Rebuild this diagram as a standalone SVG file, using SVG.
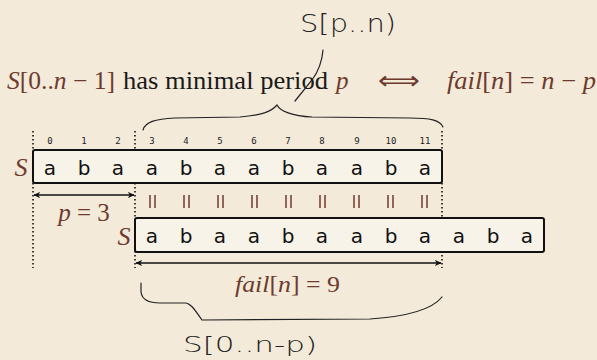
<svg xmlns="http://www.w3.org/2000/svg" width="597" height="360" viewBox="0 0 597 360">
<style>
.math{font-family:"Liberation Serif",serif;fill:#6e3a2e}
.tt{font-family:"Liberation Serif",serif;fill:#1a1a1a}
.it{font-style:italic}
.idx{font-family:"DejaVu Sans Mono",monospace;font-size:9px;fill:#222;text-anchor:middle}
.ch{font-family:"DejaVu Sans",sans-serif;font-size:20px;fill:#111;text-anchor:middle}
.box{fill:#f8f3e9;stroke:#111;stroke-width:2}
.dot{stroke:#111;stroke-width:1.6;stroke-dasharray:1.6,2.4;fill:none}
.arr{stroke:#111;stroke-width:1.6;fill:none;marker-start:url(#ah);marker-end:url(#ah)}
.eq{stroke:#6e3a2e;stroke-width:1.5}
.hand{fill:none;stroke:#222;stroke-width:1.2;stroke-linecap:round}
.htxt{font-family:"DejaVu Sans",sans-serif;font-weight:200;fill:#222}
</style>
<defs>
<marker id="ah" viewBox="0 0 10 10" refX="9" refY="5" markerWidth="7" markerHeight="7" orient="auto-start-reverse" markerUnits="userSpaceOnUse">
<path d="M0,0.5 L10,5 L0,9.5 L3,5 Z" fill="#111"/>
</marker>
</defs>
<rect width="597" height="360" fill="#f3ead9"/>

<g id="title">
<text x="7" y="89" font-size="25" class="math" textLength="108" lengthAdjust="spacingAndGlyphs"><tspan class="it">S</tspan>[0..<tspan class="it">n</tspan> − 1]</text>
<text x="123" y="89" font-size="25" class="tt" textLength="205" lengthAdjust="spacingAndGlyphs">has minimal period</text>
<text x="336" y="89" font-size="25" class="math it">p</text>
<text x="378" y="89" font-size="25" class="math" textLength="42" lengthAdjust="spacingAndGlyphs">⟺</text>
<text x="447" y="89" font-size="25" class="math" textLength="149" lengthAdjust="spacingAndGlyphs"><tspan class="it">fail</tspan>[<tspan class="it">n</tspan>] = <tspan class="it">n</tspan> − <tspan class="it">p</tspan></text>
</g>

<g id="indices">
<text class="idx" x="50" y="144">0</text>
<text class="idx" x="84" y="144">1</text>
<text class="idx" x="118" y="144">2</text>
<text class="idx" x="152" y="144">3</text>
<text class="idx" x="186" y="144">4</text>
<text class="idx" x="220" y="144">5</text>
<text class="idx" x="254" y="144">6</text>
<text class="idx" x="288" y="144">7</text>
<text class="idx" x="322" y="144">8</text>
<text class="idx" x="357" y="144">9</text>
<text class="idx" x="391" y="144">10</text>
<text class="idx" x="425" y="144">11</text>
</g>

<g id="dotted">
<line class="dot" x1="33" y1="131" x2="33" y2="268"/>
<line class="dot" x1="135" y1="131" x2="135" y2="268"/>
<line class="dot" x1="442" y1="131" x2="442" y2="268"/>
</g>

<g id="top-string">
<text x="21" y="176" font-size="26" class="math it" text-anchor="middle">S</text>
<rect class="box" x="33" y="150" width="409" height="33" rx="2"/>
<text class="ch" y="175"><tspan x="50">a</tspan><tspan x="84">b</tspan><tspan x="118">a</tspan><tspan x="152">a</tspan><tspan x="186">b</tspan><tspan x="220">a</tspan><tspan x="254">a</tspan><tspan x="288">b</tspan><tspan x="322">a</tspan><tspan x="357">a</tspan><tspan x="391">b</tspan><tspan x="425">a</tspan></text>
</g>

<g id="equals">
<g class="eq">
<line x1="150" y1="195" x2="150" y2="208"/><line x1="155" y1="195" x2="155" y2="208"/>
<line x1="184" y1="195" x2="184" y2="208"/><line x1="189" y1="195" x2="189" y2="208"/>
<line x1="218" y1="195" x2="218" y2="208"/><line x1="223" y1="195" x2="223" y2="208"/>
<line x1="252" y1="195" x2="252" y2="208"/><line x1="257" y1="195" x2="257" y2="208"/>
<line x1="286" y1="195" x2="286" y2="208"/><line x1="291" y1="195" x2="291" y2="208"/>
<line x1="320" y1="195" x2="320" y2="208"/><line x1="325" y1="195" x2="325" y2="208"/>
<line x1="354" y1="195" x2="354" y2="208"/><line x1="359" y1="195" x2="359" y2="208"/>
<line x1="388" y1="195" x2="388" y2="208"/><line x1="393" y1="195" x2="393" y2="208"/>
<line x1="422" y1="195" x2="422" y2="208"/><line x1="427" y1="195" x2="427" y2="208"/>
</g>
</g>

<g id="bottom-string">
<text x="124" y="245" font-size="26" class="math it" text-anchor="middle">S</text>
<rect class="box" x="135" y="218" width="409" height="34" rx="2"/>
<text class="ch" y="243"><tspan x="152">a</tspan><tspan x="186">b</tspan><tspan x="220">a</tspan><tspan x="254">a</tspan><tspan x="288">b</tspan><tspan x="322">a</tspan><tspan x="357">a</tspan><tspan x="391">b</tspan><tspan x="425">a</tspan><tspan x="459">a</tspan><tspan x="493">b</tspan><tspan x="527">a</tspan></text>
</g>

<g id="connectors">
<line class="arr" x1="34" y1="195" x2="134" y2="195"/>
<line class="arr" x1="136" y1="263" x2="441" y2="263"/>
</g>

<g id="labels">
<text x="84" y="221" font-size="25" class="math" text-anchor="middle"><tspan class="it">p</tspan> = 3</text>
<text x="235" y="292" font-size="24" class="math" textLength="105" lengthAdjust="spacingAndGlyphs"><tspan class="it">fail</tspan>[<tspan class="it">n</tspan>] = 9</text>
</g>

<g id="annotations">
<path class="hand" d="M143,130 C145,122 155,119 175,118 L240,117 C262,115 271,112 277,105 C280,111 292,116 312,117 L410,118 C430,118 440,120 443,127"/>
<path class="hand" d="M323,50 C322,62 318,72 312,80 L295,101"/>
<text class="htxt" x="300" y="32" font-size="24" textLength="96" lengthAdjust="spacingAndGlyphs">S[p..n)</text>
<path class="hand" d="M141,283 L141,292 C142,300 150,303 160,303 L186,303 C192,304 196,312 202,320 L370,319 C400,317 430,312 442,297"/>
<text class="htxt" x="183" y="352" font-size="22" textLength="134" lengthAdjust="spacingAndGlyphs">S[0..n-p)</text>
</g>
</svg>
